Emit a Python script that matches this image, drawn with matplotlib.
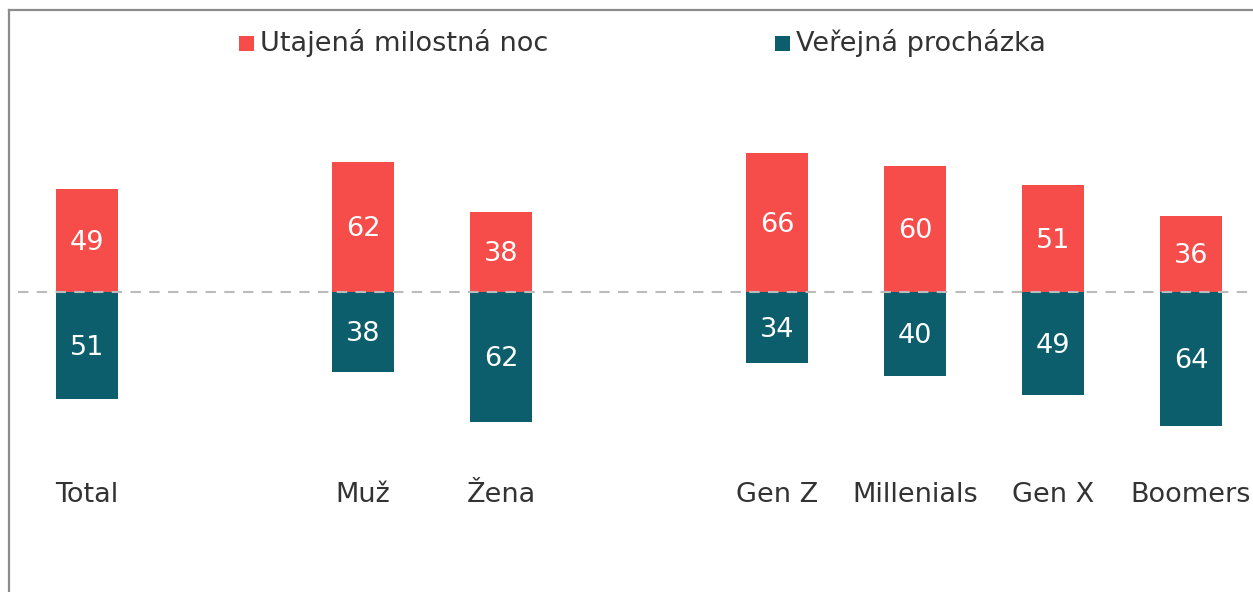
import matplotlib
matplotlib.use("Agg")
import matplotlib.pyplot as plt
from matplotlib.lines import Line2D
from matplotlib.patches import Rectangle

plt.rcParams["font.family"] = ["DejaVu Sans"]

categories = ["Total", "Muž", "Žena", "Gen Z", "Millenials", "Gen X", "Boomers"]
positions = [0, 2, 3, 5, 6, 7, 8]
secret_night = [49, 62, 38, 66, 60, 51, 36]
public_walk = [51, 38, 62, 34, 40, 49, 64]
series_names = ["Utajená milostná noc", "Veřejná procházka"]

RED = "#F64D4B"
TEAL = "#0D5E6C"
TXT = "#333333"
FS = 19.5

W, H = 1253, 592
fig = plt.figure(figsize=(W / 100, H / 100), dpi=100)
ax = fig.add_axes([0, 0, 1, 1])
ax.set_axis_off()

px_per_x = 138.0
x0_px = 87.0
py_per_unit = 2.1
zero_py = 292.0
ax.set_xlim(-x0_px / px_per_x, (W - x0_px) / px_per_x)
ax.set_ylim(-(H - zero_py) / py_per_unit, zero_py / py_per_unit)

bw = 62 / px_per_x
ax.bar(positions, secret_night, width=bw, color=RED, zorder=2)
ax.bar(positions, [-v for v in public_walk], width=bw, color=TEAL, zorder=2)

for x, a, b in zip(positions, secret_night, public_walk):
    ax.text(x, a / 2 - 1, str(a), ha="center", va="center", color="white", fontsize=FS, zorder=3)
    ax.text(x, -b / 2 - 1, str(b), ha="center", va="center", color="white", fontsize=FS, zorder=3)

label_y = -(495 - zero_py) / py_per_unit
for x, c in zip(positions, categories):
    ax.text(x, label_y, c, ha="center", va="center", color=TXT, fontsize=FS)

# dashed zero line
ax.axhline(0, xmin=18 / W, xmax=1, color="#BBBBBB", lw=1.5, ls=(0, (5, 4)), zorder=4)

# frame lines (left and top)
fig.add_artist(Line2D([8.5 / W, 8.5 / W], [0, 1 - 10 / H], transform=fig.transFigure, color="#8C8C8C", lw=1.6))
fig.add_artist(Line2D([8.5 / W, 1], [1 - 10 / H, 1 - 10 / H], transform=fig.transFigure, color="#8C8C8C", lw=1.6))

# legend
leg_items = [(239, RED, series_names[0]), (775, TEAL, series_names[1])]
for lx, col, name in leg_items:
    fig.add_artist(Rectangle((lx / W, 1 - 51 / H), 15 / W, 15 / H, transform=fig.transFigure,
                             facecolor=col, edgecolor="none"))
    fig.text((lx + 21) / W, 1 - 43 / H, name, ha="left", va="center", color=TXT, fontsize=FS)

fig.savefig("out.png", dpi=100)
